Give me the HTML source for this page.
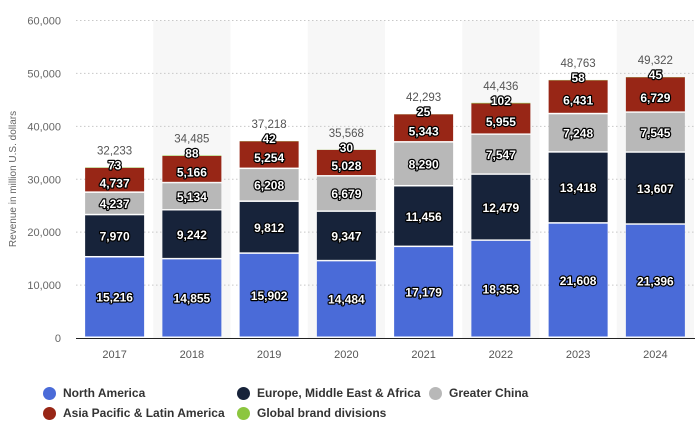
<!DOCTYPE html>
<html><head><meta charset="utf-8">
<style>
body{margin:0;background:#fff;font-family:"Liberation Sans",sans-serif;}
svg text{font-family:"Liberation Sans",sans-serif;}
.lbl{font-size:12px;font-weight:bold;fill:#fff;stroke:#000;stroke-width:2.4px;paint-order:stroke;stroke-linejoin:round;}
.legend{position:absolute;font-size:12px;color:#333;font-weight:bold;display:flex;align-items:center;height:14px;white-space:nowrap;}
.dot{width:13px;height:13px;border-radius:50%;margin-right:7px;display:inline-block;}
</style></head>
<body>
<div style="position:relative;width:695px;height:427px;overflow:hidden">
<svg id="chart" width="695" height="427" style="position:absolute;left:0;top:0"></svg>
<div class="legend" style="left:43px;top:386px"><span class="dot" style="background:#4a6bd8"></span>North America</div>
<div class="legend" style="left:237px;top:386px"><span class="dot" style="background:#17233a"></span>Europe, Middle East &amp; Africa</div>
<div class="legend" style="left:429px;top:386px"><span class="dot" style="background:#b8b8b8"></span>Greater China</div>
<div class="legend" style="left:43px;top:406px"><span class="dot" style="background:#982616"></span>Asia Pacific &amp; Latin America</div>
<div class="legend" style="left:237px;top:406px"><span class="dot" style="background:#8cc63f"></span>Global brand divisions</div>
</div>
<script>
const years=["2017","2018","2019","2020","2021","2022","2023","2024"];
const northAmerica=[15216,14855,15902,14484,17179,18353,21608,21396];
const emea=[7970,9242,9812,9347,11456,12479,13418,13607];
const greaterChina=[4237,5134,6208,6679,8290,7547,7248,7545];
const asiaPacific=[4737,5166,5254,5028,5343,5955,6431,6729];
const globalBrand=[73,88,42,30,25,102,58,45];
const yTicks=[0,10000,20000,30000,40000,50000,60000];

const NS="http://www.w3.org/2000/svg";
const svg=document.getElementById('chart');
const left=76,right=694,top0=20.5,bottom=338,maxV=60000;
const bw=(right-left)/years.length, barW=59;
const y=v=>bottom-(v/maxV)*(bottom-top0);
const xc=i=>left+bw*(i+0.5);
function mk(tag,attrs){const e=document.createElementNS(NS,tag);for(const k in attrs)e.setAttribute(k,attrs[k]);svg.appendChild(e);return e;}
const fmt=v=>v.toLocaleString('en-US');
years.forEach((yr,i)=>{if(i%2===1){const r=mk('rect',{x:left+bw*i,y:top0,width:bw,height:bottom-top0,fill:'#f7f7f7'});

}});
yTicks.forEach(t=>{
 if(t>0){const l=mk('line',{x1:left,x2:right,y1:y(t),y2:y(t),stroke:'#c8c8c8','stroke-dasharray':'1.5,2.5'});
 
 }
 const tx=mk('text',{x:61,y:y(t)+4,'text-anchor':'end','font-size':'11',fill:'#666'});tx.textContent=fmt(t);
 
 
});
const yt=mk('text',{x:16,y:179,'text-anchor':'middle','font-size':'10',fill:'#666',transform:'rotate(-90 16 179)'});
yt.textContent='Revenue in million U.S. dollars';


const series=[[northAmerica,'#4a6bd8','north-america'],[emea,'#17233a','emea'],[greaterChina,'#b8b8b8','greater-china'],[asiaPacific,'#982616','asia-pacific'],[globalBrand,'#8cc63f','global-brand']];
years.forEach((yr,i)=>{
 let cum=0;const x0=xc(i)-barW/2;
 series.forEach(([arr,col,nm],s)=>{
  const v=arr[i];const y1=y(cum),y2=y(cum+v);
  const r=mk('rect',{x:x0,y:y2,width:barW,height:Math.max(0,y1-y2-(s<4?1.5:0)),fill:col});
  
  
  let ly=(y1+y2)/2+4;
  if(s===4)ly=y2+2;
  if(s===3)ly=(y1+y2)/2+7;
  const t=mk('text',{x:xc(i),y:ly,'text-anchor':'middle',class:'lbl'});t.textContent=fmt(v);
  
  
  cum+=v;
 });
 const tt=mk('text',{x:xc(i),y:y(cum)-13,'text-anchor':'middle','font-size':'11.5',fill:'#555'});tt.textContent=fmt(cum);
 
 
 const xl=mk('text',{x:xc(i),y:358,'text-anchor':'middle','font-size':'11',fill:'#555'});xl.textContent=yr;
 
 
});
const ax=mk('line',{x1:left,x2:right+1,y1:bottom+0.5,y2:bottom+0.5,stroke:'#222','stroke-width':1});


</script>
</body></html>
